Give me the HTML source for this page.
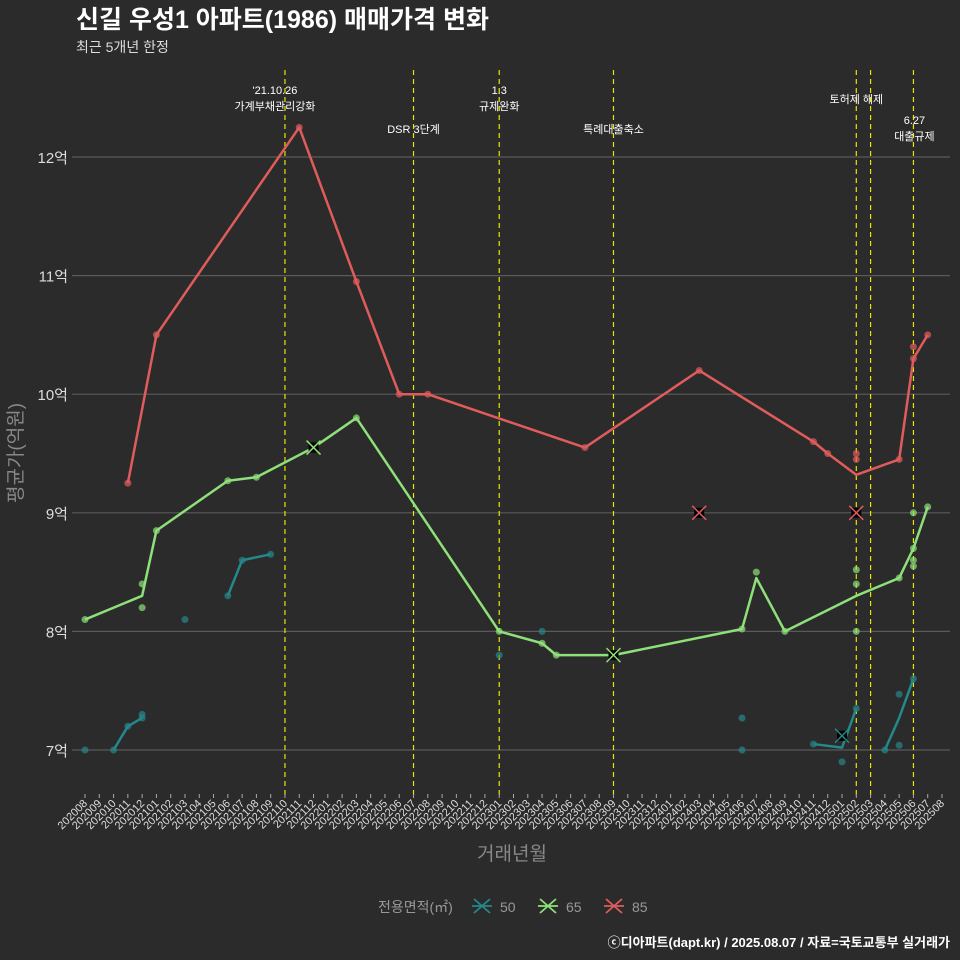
<!DOCTYPE html>
<html><head><meta charset="utf-8">
<style>
body{margin:0;background:#2b2b2b;}
svg{display:block;font-family:"Liberation Sans","Noto Sans CJK KR",sans-serif;}
</style></head>
<body>
<svg id="chart" width="960" height="960" viewBox="0 0 960 960">
<rect x="0" y="0" width="960" height="960" fill="#2b2b2b"/>
<text x="76" y="28" fill="#ffffff" font-size="25" font-weight="bold">신길 우성1 아파트(1986) 매매가격 변화</text>
<text x="76" y="52" fill="#dddddd" font-size="14">최근 5개년 한정</text>
<g id="grid"></g>
<g id="vlines"></g>
<g id="series"></g>
<g id="xaxis"></g>
<g id="yaxis"></g>
<text x="512" y="860" fill="#888888" font-size="19" text-anchor="middle">거래년월</text>
<text x="22" y="453" fill="#888888" font-size="19" text-anchor="middle" transform="rotate(-90 22 453)">평균가(억원)</text>
<g id="legend">
<text x="378" y="912" fill="#999999" font-size="14">전용면적(㎡)</text>
</g>
<text x="950" y="947" fill="#ffffff" font-size="13" font-weight="bold" text-anchor="end">ⓒ디아파트(dapt.kr) / 2025.08.07 / 자료=국토교통부 실거래가</text>
</svg>
<script>
const NS="http://www.w3.org/2000/svg";
const yTicks=[7,8,9,10,11,12];
const yLabels=["7억","8억","9억","10억","11억","12억"];
const startYear=2020, startMonth=8, nMonths=61;
const events=[14,23,29,37,54,55,58];
const eventLabels=[["'21.10.26","가계부채관리강화"],["DSR 3단계"],["1.3","규제완화"],["특례대출축소"],["토허제 해제"],[],["6.27","대출규제"]];
const eventLabelRow=[0,1,0,1,0,0,1];
const s50Lines=[[[2,7.0],[3,7.2],[4,7.27]],[[10,8.3],[11,8.6],[13,8.65]],[[51,7.05],[53,7.02],[54,7.35]],[[56,7.0],[57,7.27],[58,7.6]]];
const s50Points=[[0,7.0],[2,7.0],[3,7.2],[4,7.27],[4,7.3],[7,8.1],[10,8.3],[11,8.6],[13,8.65],[29,7.8],[32,8.0],[46,7.27],[46,7.0],[51,7.05],[53,6.9],[54,7.35],[56,7.0],[57,7.47],[57,7.04],[58,7.6]];
const s50Cancel=[[53,7.12]];
const s65Lines=[[[0,8.1],[4,8.3],[5,8.85],[10,9.27],[12,9.3],[16,9.55],[19,9.8],[29,8.0],[32,7.9],[33,7.8],[37,7.8],[46,8.02],[47,8.45],[49,8.0],[54,8.3],[57,8.45],[58,8.7],[59,9.05]]];
const s65Points=[[0,8.1],[4,8.4],[4,8.2],[5,8.85],[10,9.27],[12,9.3],[19,9.8],[29,8.0],[32,7.9],[33,7.8],[46,8.02],[47,8.5],[49,8.0],[54,8.52],[54,8.4],[54,8.0],[57,8.45],[58,9.0],[58,8.7],[58,8.6],[58,8.55],[59,9.05]];
const s65Cancel=[[16,9.55],[37,7.8]];
const s85Lines=[[[3,9.25],[5,10.5],[15,12.25],[19,10.95],[22,10.0],[24,10.0],[35,9.55],[43,10.2],[51,9.6],[52,9.5],[54,9.32],[57,9.45],[58,10.3],[59,10.5]]];
const s85Points=[[3,9.25],[5,10.5],[15,12.25],[19,10.95],[22,10.0],[24,10.0],[35,9.55],[43,10.2],[51,9.6],[52,9.5],[54,9.5],[54,9.45],[57,9.45],[58,10.4],[58,10.3],[59,10.5]];
const s85Cancel=[[43,9.0],[54,9.0]];

const X=i=>85+i*(857/60);
const Y=v=>750-(v-7)*118.6;
function mk(tag,attrs,parent){const e=document.createElementNS(NS,tag);for(const k in attrs)e.setAttribute(k,attrs[k]);parent.appendChild(e);return e;}
const grid=document.getElementById('grid'),yaxis=document.getElementById('yaxis');
yTicks.forEach((v,k)=>{
 const l=mk('line',{x1:72,x2:950,y1:Y(v),y2:Y(v),stroke:'#5a5a5a','stroke-width':1.2},grid);
 
 
 const t=mk('text',{x:68,y:Y(v)+6,fill:'#dddddd','font-size':15,'text-anchor':'end'},yaxis);
 t.textContent=yLabels[k];
 
 
});
const xaxis=document.getElementById('xaxis');
for(let i=0;i<nMonths;i++){
 const m=(startMonth-1+i)%12+1, y=startYear+Math.floor((startMonth-1+i)/12);
 const lab=''+y+(m<10?'0'+m:m);
 const tk=mk('line',{x1:X(i),x2:X(i),y1:794,y2:798,stroke:'#aaaaaa'},xaxis);
 
 
 const t=mk('text',{x:X(i)+3,y:804,fill:'#dddddd','font-size':11,'text-anchor':'end',transform:`rotate(-45 ${X(i)+3} 804)`},xaxis);
 t.textContent=lab;
 
 
}
const vl=document.getElementById('vlines');
events.forEach((i,k)=>{
 const l=mk('line',{x1:X(i),x2:X(i),y1:70,y2:795,stroke:'#e6e600','stroke-width':1.2,'stroke-dasharray':'5,4'},vl);
 
 
 const lines=eventLabels[k];
 const base=eventLabelRow[k]?124:94;
 lines.forEach((s,j)=>{
  const yy=lines.length===1?(eventLabelRow[k]?133:103):base+j*16;
  const t=mk('text',{x:X(i)+(k===0?-10:k===6?1:0),y:yy,fill:'#ffffff','font-size':11,'text-anchor':'middle'},vl);
  t.textContent=s;
  
  
 });
});
const sg=document.getElementById('series');
function drawSeries(name,color,lines,points,cancels){
 const g=mk('g',{},sg);
 
 
 lines.forEach(seg=>{
  const p=mk('polyline',{points:seg.map(d=>X(d[0])+','+Y(d[1])).join(' '),fill:'none',stroke:color,'stroke-width':2.5,'stroke-linejoin':'round'},g);
  
  
 });
 points.forEach(d=>{
  const c=mk('circle',{cx:X(d[0]),cy:Y(d[1]),r:3.5,fill:color,'fill-opacity':0.7},g);
  
  
 });
 cancels.forEach(d=>{
  const x=X(d[0]),y=Y(d[1]);
  const b=mk('rect',{x:x-5,y:y-5,width:10,height:10,fill:'#000'},g);
  
  
  mk('path',{d:`M${x-7} ${y-7}L${x+7} ${y+7}M${x+7} ${y-7}L${x-7} ${y+7}`,stroke:color,'stroke-width':1.5},g);
 });
}
drawSeries('50','#25888a',s50Lines,s50Points,s50Cancel);
drawSeries('65','#8ee07a',s65Lines,s65Points,s65Cancel);
drawSeries('85','#e05c5c',s85Lines,s85Points,s85Cancel);
const lg=document.getElementById('legend');
[['50','#25888a',482],['65','#8ee07a',548],['85','#e05c5c',614]].forEach(([n,c,x])=>{
 const g=mk('g',{},lg);
 
 
 mk('path',{d:`M${x-8} 899L${x+8} 913M${x+8} 899L${x-8} 913M${x-10} 906L${x+10} 906`,stroke:c,'stroke-width':1.8},g);
 const t=mk('text',{x:x+18,y:912,fill:'#999999','font-size':14},g);
 t.textContent=n;
});
</script>
</body></html>
